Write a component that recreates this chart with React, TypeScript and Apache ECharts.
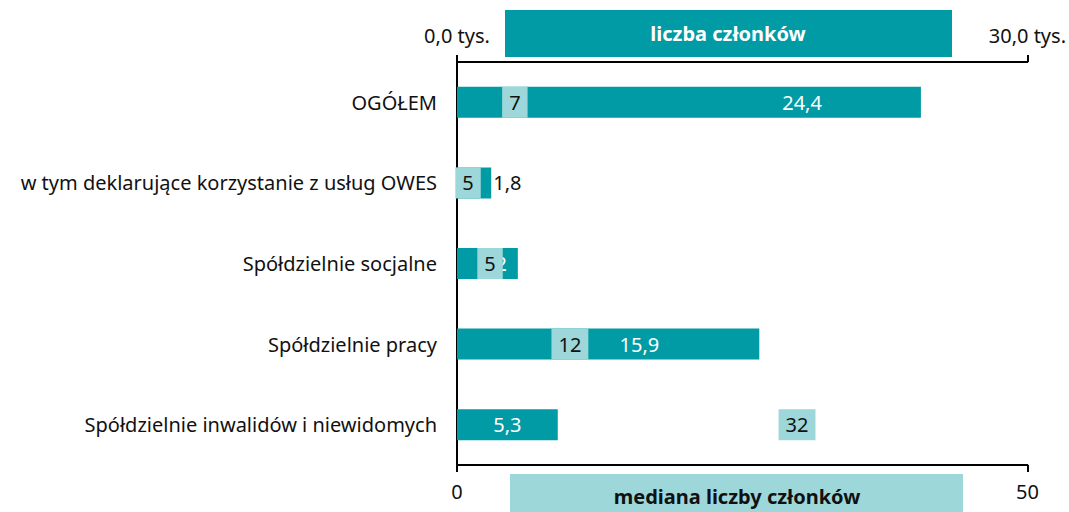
import React, { useEffect, useRef } from "react";
import * as echarts from "echarts";

const categories = [
  "OGÓŁEM",
  "w tym deklarujące korzystanie z usług OWES",
  "Spółdzielnie socjalne",
  "Spółdzielnie pracy",
  "Spółdzielnie inwalidów i niewidomych",
];
const members = [24.4, 1.8, 3.2, 15.9, 5.3]; // tys.
const medians = [7, 5, 5, 12, 32];
const topTicks = [0, 30];
const bottomTicks = [0, 50];

const TEAL = "#009ba4";
const LIGHT = "#9dd7da";
const FONT = "'Noto Sans', sans-serif";
const FS = 20;

// label placement styles per bar (styles only)
const barLabelStyles = [
  { position: "insideRight", distance: 99, color: "#fff" },
  { position: "right", distance: 2, color: "#111" },
  { position: "insideRight", distance: 11, color: "#fff" },
  { position: "insideRight", distance: 100, color: "#fff" },
  { position: "inside", distance: 0, color: "#fff" },
];
const medianOffsets = [-22, -46, -24, -24, -25];

export default function App() {
  const ref = useRef<HTMLDivElement>(null);
  useEffect(() => {
    document.body.style.margin = "0";
    const chart = echarts.init(ref.current!, undefined, { renderer: "svg" });
    const fmt = (v: number) => v.toFixed(1).replace(".", ",");
    chart.setOption({
      animation: false,
      grid: { left: 457, right: 41, top: 62, bottom: 47 },
      xAxis: [
        {
          type: "value",
          position: "top",
          min: topTicks[0],
          max: topTicks[1],
          interval: topTicks[1] - topTicks[0],
          splitLine: { show: false },
          axisLine: { show: true, lineStyle: { color: "#000", width: 2 } },
          axisTick: { show: true, length: 7, lineStyle: { color: "#000", width: 2 } },
          axisLabel: {
            formatter: (v: number) => fmt(v) + " tys.",
            fontFamily: FONT,
            fontSize: FS,
            color: "#111",
            margin: 17,
          },
        },
        {
          type: "value",
          position: "bottom",
          min: bottomTicks[0],
          max: bottomTicks[1],
          interval: bottomTicks[1] - bottomTicks[0],
          splitLine: { show: false },
          axisLine: { show: true, lineStyle: { color: "#000", width: 2 } },
          axisTick: { show: true, length: 7, lineStyle: { color: "#000", width: 2 } },
          axisLabel: { fontFamily: FONT, fontSize: FS, color: "#111", margin: 16 },
        },
      ],
      yAxis: {
        type: "category",
        inverse: true,
        data: categories,
        axisLine: { show: true, lineStyle: { color: "#000", width: 2 } },
        axisTick: { show: false },
        axisLabel: { fontFamily: FONT, fontSize: FS, color: "#111", margin: 20 },
      },
      series: [
        {
          type: "bar",
          xAxisIndex: 0,
          z: 2,
          barWidth: 31,
          itemStyle: { color: TEAL },
          data: members.map((v, i) => ({
            value: v,
            label: {
              show: true,
              position: barLabelStyles[i].position,
              distance: barLabelStyles[i].distance,
              color: barLabelStyles[i].color,
              formatter: () => fmt(v),
              fontFamily: FONT,
              fontSize: FS,
            },
          })),
        },
        {
          type: "scatter",
          xAxisIndex: 1,
          z: 5,
          symbolSize: 1,
          itemStyle: { color: "rgba(0,0,0,0)", opacity: 1 },
          data: medians.map((v, i) => ({
            value: [v, categories[i]],
            label: {
              show: true,
              position: "inside",
              offset: [medianOffsets[i], 0],
              formatter: String(v),
              backgroundColor: LIGHT,
              color: "#111",
              fontFamily: FONT,
              fontSize: FS,
              padding: [0, 7],
              height: 31,
              lineHeight: 31,
            },
          })),
        },
      ],
      graphic: [
        {
          type: "rect",
          shape: { x: 505, y: 10, width: 447, height: 47 },
          style: { fill: TEAL },
          z: 10,
        },
        {
          type: "text",
          x: 728,
          y: 33,
          z: 11,
          style: {
            text: "liczba członków",
            fill: "#fff",
            font: `bold 20px ${FONT}`,
            align: "center",
            verticalAlign: "middle",
          },
        },
        {
          type: "rect",
          shape: { x: 510, y: 474, width: 453, height: 40 },
          style: { fill: LIGHT },
          z: 10,
        },
        {
          type: "text",
          x: 737,
          y: 496,
          z: 11,
          style: {
            text: "mediana liczby członków",
            fill: "#111",
            font: `bold 20px ${FONT}`,
            align: "center",
            verticalAlign: "middle",
          },
        },
      ],
    });
    return () => chart.dispose();
  }, []);
  return <div ref={ref} style={{ width: 1069, height: 512 }} />;
}
